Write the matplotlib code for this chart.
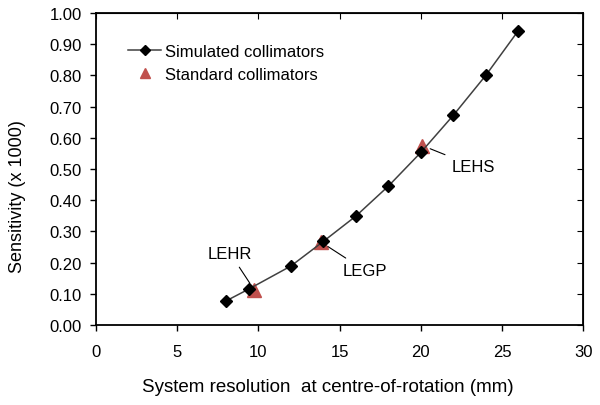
import matplotlib
matplotlib.use("Agg")
import matplotlib.pyplot as plt

plt.rcParams['font.family'] = ['Liberation Sans', 'DejaVu Sans']

sim_res = [8, 9.4, 12, 14, 16, 18, 20, 22, 24, 26]
sim_sens = [0.077, 0.115, 0.189, 0.268, 0.349, 0.445, 0.553, 0.672, 0.800, 0.943]

std_names = ["LEHR", "LEGP", "LEHS"]
std_res = [9.75, 13.85, 20.1]
std_sens = [0.112, 0.266, 0.575]
label_pos = [(6.9, 0.215), (15.2, 0.16), (21.9, 0.495)]

fig = plt.figure(figsize=(6.0, 4.06), dpi=100)
ax = fig.add_axes([0.16, 0.197, 0.812, 0.7685])

ax.plot(sim_res, sim_sens, color='#404040', lw=1.1, marker='D', ms=6.6,
        mfc='black', mec='black', label='Simulated collimators', zorder=3)
ax.plot(std_res, std_sens, ls='none', marker='^', ms=9.5, color='#C0504D',
        label='Standard collimators', zorder=2)

for name, x, y, (tx, ty) in zip(std_names, std_res, std_sens, label_pos):
    ax.annotate(name, xy=(x, y), xytext=(tx, ty), fontsize=12,
                arrowprops=dict(arrowstyle='-', color='black', lw=0.8,
                                shrinkA=3, shrinkB=6))

ax.set_xlim(0, 30)
ax.set_ylim(0, 1.0)
ax.set_xticks(range(0, 31, 5))
ax.set_yticks([i / 10 for i in range(11)])
ax.set_yticklabels([f"{i/10:.2f}" for i in range(11)])
ax.tick_params(axis='both', labelsize=12, direction='out', length=4, width=1)
ax.tick_params(axis='x', pad=10)
ax.tick_params(axis='y', pad=6)
ax2 = ax.secondary_xaxis('top')
ax2.set_xticks(range(0, 31, 5))
ax2.tick_params(direction='in', length=4, labeltop=False)
ax3 = ax.secondary_yaxis('right')
ax3.set_yticks([i / 10 for i in range(11)])
ax3.tick_params(direction='in', length=4, labelright=False)

for s in ax.spines.values():
    s.set_linewidth(1.3)

ax.set_xlabel('System resolution  at centre-of-rotation (mm)', fontsize=13.5,
              labelpad=13, x=0.475)
ax.set_ylabel('Sensitivity (x 1000)', fontsize=13, labelpad=17, y=0.415)

ax.legend(loc='upper left', bbox_to_anchor=(0.035, 0.95), frameon=False,
          fontsize=12, handlelength=2.0, handletextpad=0.2, labelspacing=0.5,
          markerscale=0.8)

fig.savefig('out.png', dpi=100)
